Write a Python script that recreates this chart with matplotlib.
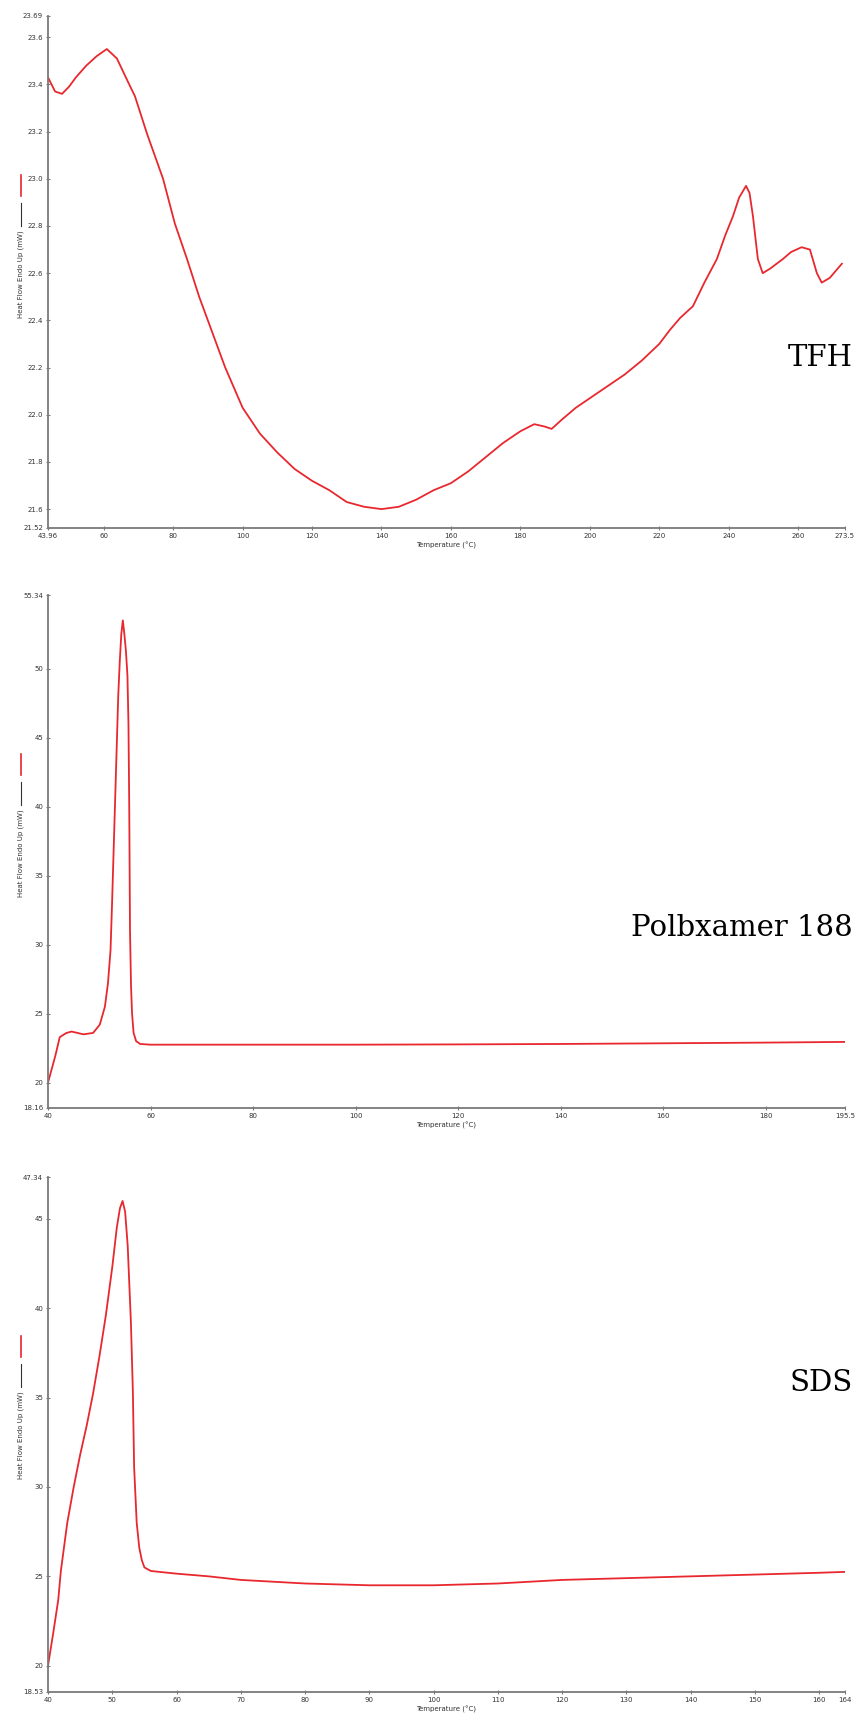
import matplotlib
matplotlib.use("Agg")
import matplotlib.pyplot as plt
from matplotlib.lines import Line2D

# TFH
tfh_temp = [43.96, 46, 48, 50, 52, 55, 58, 60.9, 63.8, 66.7, 69, 72.5, 77.1, 80.5, 84, 87.5,
            90, 95, 100, 105, 110, 115, 120, 125, 130, 135, 140, 145, 150, 155, 160, 165,
            170, 175, 180, 184, 187, 189, 192, 196, 200, 205, 210, 215, 220, 223.1, 226,
            229.7, 233, 236.6, 239, 241.2, 243, 245, 246, 247, 248.4, 249.8, 252, 255.6,
            258, 261, 263.4, 265.4, 266.8, 269.1, 272.6]
tfh_flow = [23.43, 23.37, 23.36, 23.39, 23.43, 23.48, 23.52, 23.55, 23.51, 23.42, 23.35, 23.19,
            23.00, 22.81, 22.66, 22.50, 22.40, 22.20, 22.03, 21.92, 21.84, 21.77, 21.72, 21.68,
            21.63, 21.61, 21.60, 21.61, 21.64, 21.68, 21.71, 21.76, 21.82, 21.88, 21.93, 21.96,
            21.95, 21.94, 21.98, 22.03, 22.07, 22.12, 22.17, 22.23, 22.30, 22.36, 22.41, 22.46,
            22.56, 22.66, 22.76, 22.84, 22.92, 22.97, 22.94, 22.84, 22.66, 22.60, 22.62, 22.66,
            22.69, 22.71, 22.70, 22.60, 22.56, 22.58, 22.64]

# Poloxamer 188
polo_temp = [40, 41.4, 42.3, 43.6, 44.6, 46.9, 48.8, 50.1, 51.1, 51.7, 52.2, 52.5, 52.9, 53.3,
             53.7, 54.0, 54.3, 54.6, 54.9, 55.2, 55.5, 55.7, 55.85, 56.0, 56.2, 56.4, 56.7,
             57.2, 58, 60, 80, 100, 120, 140, 160, 180, 195.5]
polo_flow = [20.0, 21.9, 23.3, 23.6, 23.7, 23.5, 23.6, 24.2, 25.5, 27.2, 29.6, 33.0, 38.0, 43.0,
             48.0, 50.5, 52.5, 53.5, 52.5, 51.3, 49.5, 46.0, 40.0, 31.0, 27.0, 25.0, 23.6,
             23.0, 22.8, 22.75, 22.75, 22.75, 22.77, 22.8, 22.85, 22.9, 22.95]

# SDS
sds_temp = [40, 40.8, 41.35, 41.6, 42, 43, 44, 45, 46, 47, 48, 49, 50, 50.7, 51.2, 51.6,
            52.0, 52.4, 52.9, 53.2, 53.4, 53.8, 54.2, 54.6, 55, 56, 60, 65, 70, 75, 80, 85, 90,
            95, 100, 105, 110, 115, 120, 125, 130, 135, 140, 145, 150, 155, 160, 164]
sds_flow = [20.0, 21.8, 23.1, 23.7, 25.3, 28.0, 30.0, 31.8, 33.4, 35.2, 37.3, 39.6, 42.3, 44.5,
            45.6, 46.0, 45.4, 43.5, 39.2, 35.4, 31.1, 28.0, 26.6, 25.9, 25.5, 25.3, 25.15, 25.0,
            24.8, 24.7, 24.6, 24.55, 24.5, 24.5, 24.5, 24.55, 24.6, 24.7, 24.8, 24.85, 24.9,
            24.95, 25.0, 25.05, 25.1, 25.15, 25.2, 25.25]

panels = [
    (tfh_temp, tfh_flow, (43.96, 273.5), (21.52, 23.69),
     [43.96, 60, 80, 100, 120, 140, 160, 180, 200, 220, 240, 260, 273.5],
     ["43.96", "60", "80", "100", "120", "140", "160", "180", "200", "220", "240", "260", "273.5"],
     [21.52, 21.6, 21.8, 22.0, 22.2, 22.4, 22.6, 22.8, 23.0, 23.2, 23.4, 23.6, 23.69],
     ["21.52", "21.6", "21.8", "22.0", "22.2", "22.4", "22.6", "22.8", "23.0", "23.2", "23.4", "23.6", "23.69"],
     "TFH", 22.24),
    (polo_temp, polo_flow, (40, 195.5), (18.16, 55.34),
     [40, 60, 80, 100, 120, 140, 160, 180, 195.5],
     ["40", "60", "80", "100", "120", "140", "160", "180", "195.5"],
     [18.16, 20, 25, 30, 35, 40, 45, 50, 55.34],
     ["18.16", "20", "25", "30", "35", "40", "45", "50", "55.34"],
     "Polbxamer 188", 31.2),
    (sds_temp, sds_flow, (40, 164), (18.53, 47.34),
     [40, 50, 60, 70, 80, 90, 100, 110, 120, 130, 140, 150, 160, 164],
     ["40", "50", "60", "70", "80", "90", "100", "110", "120", "130", "140", "150", "160", "164"],
     [18.53, 20, 25, 30, 35, 40, 45, 47.34],
     ["18.53", "20", "25", "30", "35", "40", "45", "47.34"],
     "SDS", 35.8),
]

W, H = 856, 1718
fig = plt.figure(figsize=(W / 100, H / 100), dpi=100)
fig.patch.set_facecolor("white")

# axes boxes in pixels: (left, right, top, bottom)
boxes = [(48, 845, 16, 528), (48, 845, 595, 1108), (48, 845, 1177, 1692)]

for (temp, flow, xlim, ylim, xt, xtl, yt, ytl, name, name_y), (l, r, t, b) in zip(panels, boxes):
    ax = fig.add_axes([l / W, 1 - b / H, (r - l) / W, (b - t) / H])
    ax.plot(temp, flow, color="#e8282e", lw=1.3)
    ax.set_xlim(*xlim)
    ax.set_ylim(*ylim)
    ax.set_xticks(xt)
    ax.set_xticklabels(xtl)
    ax.set_yticks(yt)
    ax.set_yticklabels(ytl)
    for s in ["top", "right"]:
        ax.spines[s].set_visible(False)
    for s in ["left", "bottom"]:
        ax.spines[s].set_color("#7a7a7a")
        ax.spines[s].set_linewidth(1.3)
    ax.tick_params(direction="inout", length=3, width=0.8, color="#7a7a7a",
                   labelsize=5, labelcolor="#333333", pad=2)
    ax.set_xlabel("Temperature (°C)", fontsize=5, color="#333333", labelpad=2)
    ax.text(1.01, name_y, name, transform=ax.get_yaxis_transform(), ha="right", va="center",
            fontsize=21, family="DejaVu Serif", color="black", clip_on=False)

    # y label with legend strokes
    xl = 21 / W
    fig.add_artist(Line2D([xl, xl], [1 - (t + 159) / H, 1 - (t + 180) / H], color="#e8282e", lw=1.2))
    fig.add_artist(Line2D([xl, xl], [1 - (t + 187) / H, 1 - (t + 210) / H], color="#333333", lw=0.8))
    fig.text(xl, 1 - (t + 258) / H, "Heat Flow Endo Up (mW)", rotation=90, ha="center", va="center",
             fontsize=5, color="#333333")

fig.savefig("out.png", dpi=100, facecolor="white")
